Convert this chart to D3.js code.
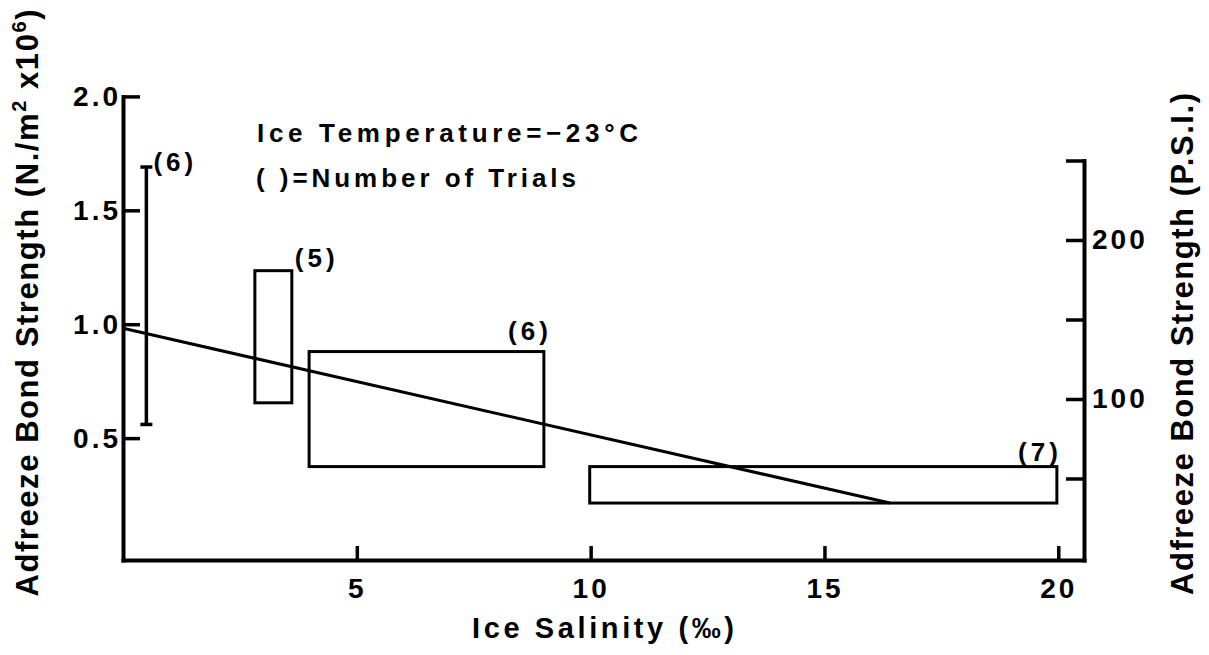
<!DOCTYPE html>
<html>
<head>
<meta charset="utf-8">
<script src="https://cdn.jsdelivr.net/npm/d3@7"></script>
<style>
  html, body { margin: 0; padding: 0; background: #fff; }
  svg text { font-family: "Liberation Sans", Arial, Helvetica, sans-serif; font-weight: bold; fill: #000; }
</style>
</head>
<body>
<svg id="chart" width="1209" height="655"></svg>
<script>
// Adfreeze bond strength against ice salinity at an ice temperature of −23 °C

// axis ticks
const salinityTicks = [5, 10, 15, 20];
const strengthTicks = [0.5, 1.0, 1.5, 2.0];
const psiTicks = [50, 100, 150, 200, 250];
const psiTickLabels = ["", "100", "", "200", ""];

// range bar at a single salinity (N/m² × 10⁶)
const barSalinity = [0.5];
const barLow = [0.56];
const barHigh = [1.69];
const barTrials = [6];

// boxes: salinity range (‰) × strength range (N/m² × 10⁶)
const boxSalMin = [2.82, 3.98, 9.98];
const boxSalMax = [3.61, 9.0, 19.97];
const boxStrMin = [0.655, 0.375, 0.215];
const boxStrMax = [1.235, 0.88, 0.375];
const boxTrials = [5, 6, 7];

// fitted trend line
const trendSalinity = [0, 16.4];
const trendStrength = [0.982, 0.215];

const svg = d3.select("#chart");

const x = d3.scaleLinear().domain([0, 20.55]).range([123, 1084]);
const y = d3.scaleLinear().domain([-0.035, 2.0]).range([560, 96.4]);
const yPsi = d3.scaleLinear().domain([-1.26, 250]).range([560, 160.5]);

function styleAxis(g, fontSize, spacing) {
  g.attr("font-size", null).attr("font-family", null);
  g.select(".domain").attr("stroke", "#000").attr("stroke-width", 4).attr("stroke-linecap", "square");
  g.selectAll(".tick line").attr("stroke", "#000").attr("stroke-width", 3.5);
  g.selectAll(".tick text").style("font-size", fontSize + "px").style("letter-spacing", spacing + "px");
}

// left axis (N/m² × 10⁶), ticks pointing inward
svg.append("g")
  .attr("transform", `translate(${x(0)},0)`)
  .call(d3.axisLeft(y).tickValues(strengthTicks).tickFormat(d3.format(".1f"))
    .tickSize(-17).tickSizeOuter(0).tickPadding(2))
  .call(g => styleAxis(g, 28, 3));

// bottom axis (salinity)
svg.append("g")
  .attr("transform", `translate(0,${y(-0.035)})`)
  .call(d3.axisBottom(x).tickValues(salinityTicks).tickFormat(d3.format("d"))
    .tickSize(-14).tickSizeOuter(0).tickPadding(18))
  .call(g => styleAxis(g, 28, 3));

// right axis (P.S.I.)
svg.append("g")
  .attr("transform", `translate(${x(20.55)},0)`)
  .call(d3.axisRight(yPsi).tickValues(psiTicks).tickFormat((d, i) => psiTickLabels[i])
    .tickSize(-18).tickSizeOuter(0).tickPadding(8))
  .call(g => styleAxis(g, 28, 3));

// range bar with caps
const bars = barSalinity.map((s, i) => ({ s, lo: barLow[i], hi: barHigh[i], n: barTrials[i] }));
const barG = svg.append("g").attr("stroke", "#000").attr("stroke-width", 3.5).attr("fill", "none");
bars.forEach(b => {
  barG.append("line").attr("x1", x(b.s)).attr("x2", x(b.s)).attr("y1", y(b.lo)).attr("y2", y(b.hi));
  [b.lo, b.hi].forEach(v => {
    barG.append("line").attr("x1", x(b.s) - 6).attr("x2", x(b.s) + 6).attr("y1", y(v)).attr("y2", y(v));
  });
});
svg.selectAll("text.barN").data(bars).join("text")
  .attr("class", "barN")
  .attr("x", d => x(d.s) + 7)
  .attr("y", d => y(d.hi) + 4)
  .style("font-size", "26px").style("letter-spacing", "4px")
  .text(d => `(${d.n})`);

// boxes
const boxes = boxSalMin.map((s, i) => ({
  s0: s, s1: boxSalMax[i], v0: boxStrMin[i], v1: boxStrMax[i], n: boxTrials[i]
}));
svg.append("g").selectAll("rect").data(boxes).join("rect")
  .attr("x", d => x(d.s0))
  .attr("y", d => y(d.v1))
  .attr("width", d => x(d.s1) - x(d.s0))
  .attr("height", d => y(d.v0) - y(d.v1))
  .attr("fill", "none").attr("stroke", "#000").attr("stroke-width", 3);

// trial counts above the boxes
const boxLabelPlacement = [
  { anchor: "start", dx: 3, dy: -4 },
  { anchor: "end", dx: 8, dy: -12 },
  { anchor: "end", dx: 5, dy: -6 }
];
svg.selectAll("text.boxN").data(boxes).join("text")
  .attr("class", "boxN")
  .attr("text-anchor", (d, i) => boxLabelPlacement[i].anchor)
  .attr("x", (d, i) => x(d.s1) + boxLabelPlacement[i].dx)
  .attr("y", (d, i) => y(d.v1) + boxLabelPlacement[i].dy)
  .style("font-size", "26px").style("letter-spacing", "4px")
  .text(d => `(${d.n})`);

// trend line
const trend = trendSalinity.map((s, i) => [s, trendStrength[i]]);
svg.append("path")
  .datum(trend)
  .attr("d", d3.line().x(d => x(d[0])).y(d => y(d[1])))
  .attr("fill", "none").attr("stroke", "#000").attr("stroke-width", 3);

// notes
svg.append("text")
  .attr("x", 257).attr("y", 142)
  .attr("textLength", 381).attr("lengthAdjust", "spacing")
  .style("font-size", "26px")
  .text("Ice Temperature=−23°C");
svg.append("text")
  .attr("x", 256).attr("y", 187)
  .attr("textLength", 320).attr("lengthAdjust", "spacing")
  .style("font-size", "26px")
  .text("( )=Number of Trials");

// x axis title
svg.append("text")
  .attr("x", 603).attr("y", 638)
  .attr("text-anchor", "middle")
  .attr("textLength", 262).attr("lengthAdjust", "spacing")
  .style("font-size", "29px")
  .text("Ice Salinity (‰)");

// left axis title with superscripts
const leftTitle = svg.append("text")
  .attr("transform", "translate(38,303) rotate(-90)")
  .attr("text-anchor", "middle")
  .attr("textLength", 587).attr("lengthAdjust", "spacing")
  .style("font-size", "31px");
leftTitle.append("tspan").text("Adfreeze Bond Strength (N./m");
leftTitle.append("tspan").attr("dy", -12).style("font-size", "20px").text("2");
leftTitle.append("tspan").attr("dy", 12).text(" x10");
leftTitle.append("tspan").attr("dy", -12).style("font-size", "20px").text("6");
leftTitle.append("tspan").attr("dy", 12).text(")");

// right axis title
svg.append("text")
  .attr("transform", "translate(1193,344) rotate(-90)")
  .attr("text-anchor", "middle")
  .attr("textLength", 502).attr("lengthAdjust", "spacing")
  .style("font-size", "31px")
  .text("Adfreeze Bond Strength (P.S.I.)");
</script>
</body>
</html>
